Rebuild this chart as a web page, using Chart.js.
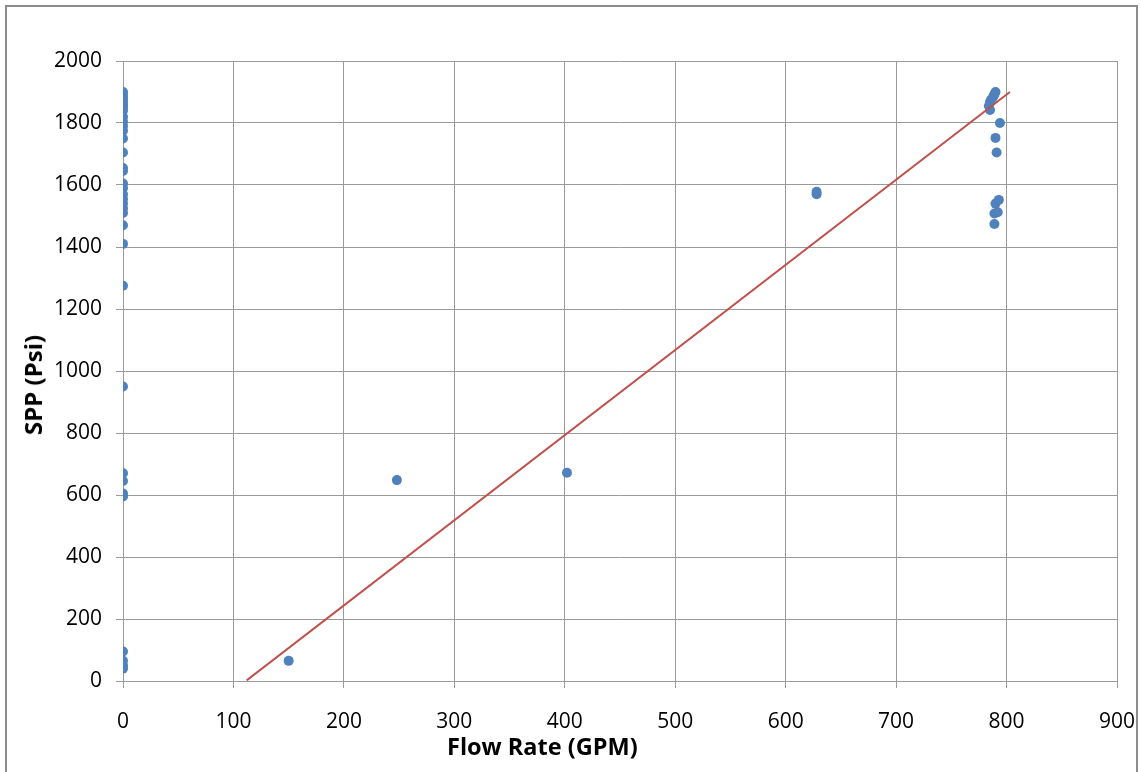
<!DOCTYPE html>
<html>
<head>
<meta charset="utf-8">
<script src="https://cdn.jsdelivr.net/npm/chart.js@4"></script>
<style>
  html, body { margin: 0; padding: 0; background: #fff; }
  #wrap { position: relative; width: 1141px; height: 772px; overflow: hidden; }
  #frame { position: absolute; left: 5px; top: 5px; width: 1133px; height: 800px; border: 2px solid #8c8c8c; box-sizing: border-box; }
  #chart { position: absolute; left: 0; top: 0; }
  .axis-title { position: absolute; font: bold 23.5px/1 "Open Sans", sans-serif; color: #000; white-space: nowrap; }
  #xTitle { left: 447px; top: 735px; }
  #yTitle { left: 33px; top: 385px; font-size: 24px; transform: translate(-50%, -50%) rotate(-90deg); }
</style>
</head>
<body>
<div id="wrap">
  <div id="frame"></div>
  <canvas id="chart" width="1141" height="772"></canvas>
  <div class="axis-title" id="xTitle">Flow Rate (GPM)</div>
  <div class="axis-title" id="yTitle">SPP (Psi)</div>
</div>
<script>
// measured points (GPM, psi)
const flowRate = [
  0, 0, 0, 0, 0, 0, 0, 0, 0, 0, 0, 0, 0, 0, 0, 0, 0,
  0, 0, 0, 0, 0, 0, 0, 0, 0, 0, 0, 0, 0, 0, 0, 0, 0,
  150, 248, 402, 628, 628,
  790, 789, 788, 786, 785, 784, 785, 794, 790, 791, 793, 790, 792, 789, 789
];
const spp = [
  1900, 1890, 1880, 1870, 1860, 1850, 1840, 1820, 1805, 1790, 1775, 1750, 1705, 1655, 1645, 1605, 1590,
  1570, 1555, 1540, 1525, 1510, 1470, 1410, 1275, 950, 670, 645, 605, 595, 95, 65, 50, 40,
  65, 648, 672, 1578, 1570,
  1900, 1893, 1885, 1875, 1868, 1855, 1842, 1800, 1752, 1705, 1552, 1540, 1512, 1508, 1474
];

// linear trendline end points
const trendFlow = [112, 803];
const trendSpp = [2, 1900];

const xTicks = { min: 0, max: 900, step: 100 };
const yTicks = { min: 0, max: 2000, step: 200 };

const gridColor = '#9a9a9a';
const tickFont = { family: '"Open Sans", sans-serif', size: 21 };
const plainNumber = value => String(value);

const pointData = flowRate.map((x, i) => ({ x, y: spp[i] }));
const trendData = trendFlow.map((x, i) => ({ x, y: trendSpp[i] }));

new Chart(document.getElementById('chart'), {
  type: 'scatter',
  data: {
    datasets: [
      {
        label: 'Trend',
        data: trendData,
        showLine: true,
        borderColor: '#c0504d',
        borderWidth: 2,
        pointRadius: 0,
        fill: false
      },
      {
        label: 'SPP',
        data: pointData,
        backgroundColor: '#4f81bd',
        borderColor: '#4f81bd',
        pointRadius: 5,
        borderWidth: 0
      }
    ]
  },
  options: {
    responsive: false,
    animation: false,
    layout: { padding: { left: 20, top: 61, right: 24, bottom: 10 } },
    plugins: { legend: { display: false }, tooltip: { enabled: false } },
    scales: {
      x: {
        type: 'linear',
        min: xTicks.min,
        max: xTicks.max,
        afterFit: scale => {
          scale.height = 81;
          scale.paddingLeft = 0;
          scale.paddingRight = 0;
        },
        ticks: { stepSize: xTicks.step, color: '#000', font: tickFont, padding: 21, maxRotation: 0, callback: plainNumber },
        grid: { color: gridColor, tickLength: 7, lineWidth: 1 },
        border: { color: gridColor }
      },
      y: {
        min: yTicks.min,
        max: yTicks.max,
        afterFit: scale => {
          scale.width = 103;
          scale.paddingTop = 0;
          scale.paddingBottom = 0;
        },
        ticks: { stepSize: yTicks.step, color: '#000', font: tickFont, padding: 14, callback: plainNumber },
        grid: { color: gridColor, tickLength: 7, lineWidth: 1 },
        border: { color: gridColor }
      }
    }
  }
});
</script>
</body>
</html>
